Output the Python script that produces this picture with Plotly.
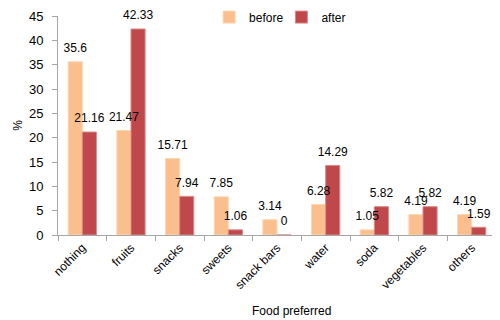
import plotly.graph_objects as go

categories = ["nothing", "fruits", "snacks", "sweets", "snack bars", "water", "soda", "vegetables", "others"]
before = [35.6, 21.47, 15.71, 7.85, 3.14, 6.28, 1.05, 4.19, 4.19]
after = [21.16, 42.33, 7.94, 1.06, 0, 14.29, 5.82, 5.82, 1.59]
before_labels = ["35.6", "21.47", "15.71", "7.85", "3.14", "6.28", "1.05", "4.19", "4.19"]
after_labels = ["21.16", "42.33", "7.94", "1.06", "0", "14.29", "5.82", "5.82", "1.59"]

FONT = "Liberation Sans, Arial, sans-serif"

fig = go.Figure()
fig.add_trace(go.Bar(
    x=categories, y=before, name="before", legend="legend", offsetgroup="b",
    marker=dict(color="#FABF8D", line=dict(color="#FCD6B4", width=1)),
))
fig.add_trace(go.Bar(
    x=categories, y=after, name="after", legend="legend2", offsetgroup="a",
    marker=dict(color="#C0474A", line=dict(color="#D98A8A", width=1)),
))
for vals, labels, grp in [(before, before_labels, "b"), (after, after_labels, "a")]:
    fig.add_trace(go.Scatter(
        x=categories, y=vals, text=labels, mode="markers+text", offsetgroup=grp,
        marker=dict(size=9, color="rgba(0,0,0,0)"),
        textposition="top center", showlegend=False, cliponaxis=False, hoverinfo="skip",
        textfont=dict(size=12, color="#000000", family=FONT),
    ))

# page body adds an 8px margin, so the figure is 8px smaller and left/top margins shifted
fig.update_layout(
    width=492, height=312,
    margin=dict(l=50, r=4, t=8, b=85, autoexpand=False),
    paper_bgcolor="white", plot_bgcolor="white",
    barmode="group", bargap=0.42, bargroupgap=0,
    scattermode="group", scattergap=0.42,
    font=dict(family=FONT, size=12, color="#000000"),
    showlegend=True,
    legend=dict(orientation="h", x=0.345, y=0.995, xanchor="left", yanchor="middle",
                font=dict(size=12), bgcolor="rgba(0,0,0,0)"),
    legend2=dict(orientation="h", x=0.51, y=0.995, xanchor="left", yanchor="middle",
                 font=dict(size=12), bgcolor="rgba(0,0,0,0)"),
    annotations=[
        dict(text="%", xref="paper", yref="paper", x=-0.112, y=0.503,
             showarrow=False, textangle=-90, font=dict(size=12)),
        dict(text="Food preferred", xref="paper", yref="paper", x=0.534, y=-0.388,
             showarrow=False, font=dict(size=12)),
    ],
)
fig.update_yaxes(
    range=[0, 45], dtick=5, showgrid=False, zeroline=False, automargin=False,
    showline=True, linecolor="#A6A6A6", linewidth=1,
    ticks="outside", ticklen=5, tickcolor="#A6A6A6", ticklabelstandoff=6,
    tickfont=dict(size=13),
)
fig.update_xaxes(
    showgrid=False, showline=True, linecolor="#A6A6A6", linewidth=1, automargin=False,
    ticks="outside", ticklen=5, tickcolor="#A6A6A6", tickson="boundaries",
    tickangle=-45, tickfont=dict(size=12),
)
fig.write_html("out.html")
